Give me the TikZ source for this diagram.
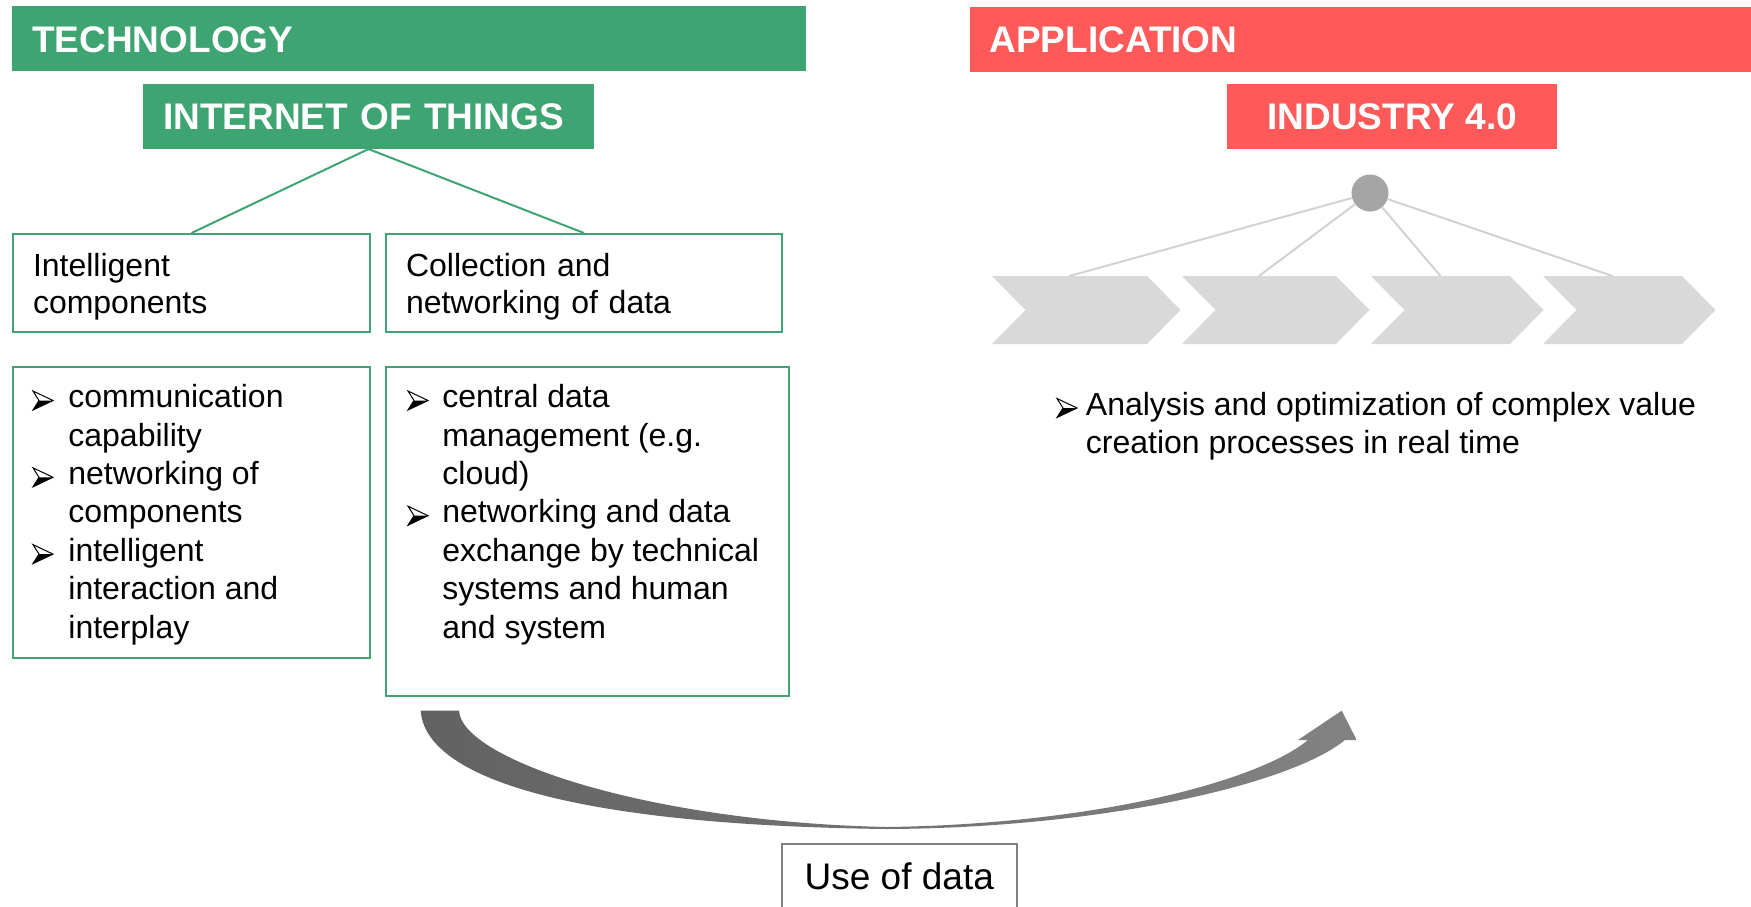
\documentclass[tikz,border=0pt]{standalone}
\usepackage{fontspec}
\setmainfont{Liberation Sans}
\usetikzlibrary{positioning}

\definecolor{techgreen}{RGB}{61,164,114}
\definecolor{appred}{RGB}{255,89,89}
\definecolor{chevgray}{RGB}{217,217,217}
\definecolor{dotgray}{RGB}{165,165,165}
\definecolor{spokegray}{RGB}{210,210,210}
\definecolor{arrowdark}{RGB}{98,98,98}
\definecolor{arrowlight}{RGB}{130,130,130}
\definecolor{usegray}{RGB}{128,128,128}

\newcommand{\headfont}{\fontsize{18.5}{22}\selectfont\bfseries}
\newcommand{\boxfont}{\fontsize{16}{18.5}\selectfont}
\newcommand{\bodyfont}{\fontsize{16}{19.2}\selectfont}

\begin{document}
\begin{tikzpicture}[
  x=0.5pt, y=-0.5pt,
  bar/.style={anchor=north west, text=white, font=\headfont, inner ysep=0pt,
    minimum height=32.35pt, text height=13.3pt, text depth=0pt, align=left},
  title/.style={text=white, font=\headfont, inner ysep=0pt,
    minimum height=32.35pt, text height=13.3pt, text depth=0pt},
  frame/.style={draw=techgreen, line width=1pt, anchor=north west, inner sep=0pt},
  item/.style={anchor=north west, align=left, font=\bodyfont, inner sep=0pt,
    execute at begin node=\strut},
  link/.style={techgreen, line width=1pt},
  spoke/.style={spokegray, line width=1pt},
  arrbul/.pic={
    \fill[white] (0,-20) -- (20,-10.5) -- (6,-10.5) -- cycle;
    \fill[black] (6,-10.5) -- (20,-10.5) -- (0,-1) -- cycle;
    \draw[black, line width=0.5pt, line join=miter] (0,-20) -- (20,-10.5) -- (0,-1) -- (6,-10.5) -- cycle;
  }
]
\useasboundingbox (0,0) rectangle (1751,906);

% headings
\node[bar, fill=techgreen, text width=377.2pt, inner xsep=9.9pt] (tech) at (12,6) {TECHNOLOGY};
\node[bar, fill=appred, text width=376pt, inner xsep=9.5pt] (app) at (970,6.7) {APPLICATION};
\node[title, fill=techgreen, text width=205.5pt, inner xsep=10pt, align=left] (iot) at (368.5,116.3) {INTERNET OF THINGS};
\node[title, fill=appred, minimum width=164.8pt, inner xsep=0pt] (ind) at (1392.2,116.3) {INDUSTRY 4.0};

% technology side
\node[frame, minimum height=49pt, text width=158.5pt, inner xsep=10pt, align=left,
  font=\boxfont, text height=15pt] (ic) at (12,233) {Intelligent\\components};
\node[frame, minimum height=49pt, text width=178pt, inner xsep=10pt, align=left,
  font=\boxfont, text height=15pt] (cn) at (385,233) {Collection and\\networking of data};
\draw[link] (iot.south) -- (ic.north);
\draw[link] (iot.south) -- (cn.north);

\node[frame, minimum width=178.5pt, minimum height=145.5pt] (lb) at (12,366) {};
\node[frame, minimum width=201.5pt, minimum height=164.5pt] (rb) at (385,366) {};

\pic at ([shift={(21,45)}]lb.north west) {arrbul};
\pic at ([shift={(21,121.8)}]lb.north west) {arrbul};
\pic at ([shift={(21,198.6)}]lb.north west) {arrbul};
\node[item] (l1) at ([shift={(56,18.12)}]lb.north west) {communication\\capability};
\node[item] (l2) at ([shift={(56,94.92)}]lb.north west) {networking of\\components};
\node[item] (l3) at ([shift={(56,171.72)}]lb.north west) {intelligent\\interaction and\\interplay};

\pic at ([shift={(23,45)}]rb.north west) {arrbul};
\pic at ([shift={(23,160.2)}]rb.north west) {arrbul};
\node[item] (r1) at ([shift={(57,18.12)}]rb.north west) {central data\\management (e.g.\\cloud)};
\node[item] (r2) at ([shift={(57,133.32)}]rb.north west) {networking and data\\exchange by technical\\systems and human\\and system};

% application side
\foreach \l/\r [count=\i] in {992/1147, 1182/1336, 1371/1510, 1543/1682} {
  \fill[chevgray] (\l,276) -- (\r,276) -- (\r+33.5,310) -- (\r,344) -- (\l,344) -- (\l+33.5,310) -- cycle;
  \coordinate (top\i) at ({(\l+\r)/2},276);
}
\node[circle, fill=dotgray, minimum size=18.5pt, inner sep=0pt] (hub) at (1370,193) {};
\foreach \i in {1,...,4}
  \draw[spoke] (hub) -- (top\i);

\pic at (1057,418.5) {arrbul};
\node[item] (ana) at (1085.5,391.62) {Analysis and optimization of complex value\\creation processes in real time};

% use of data
\shade[left color=arrowdark, right color=arrowlight]
  (420.7,710.7) .. controls (425,775) and (560,825) .. (887,829)
  .. controls (1100,828) and (1290,785) .. (1345,740)
  -- (1356.7,740) -- (1341.7,710.7) -- (1298,740) -- (1308,740)
  .. controls (1260,780) and (1100,824) .. (887,827)
  .. controls (650,822) and (462,760) .. (459,710.7) -- cycle;
\node[draw=usegray, line width=1pt, anchor=north west, minimum width=117.3pt,
  inner xsep=0pt, inner ysep=9.35pt, text height=13.3pt, text depth=30pt,
  font=\fontsize{18.5}{22}\selectfont] (use) at (781,842.7) {Use of data};
\end{tikzpicture}
\end{document}
